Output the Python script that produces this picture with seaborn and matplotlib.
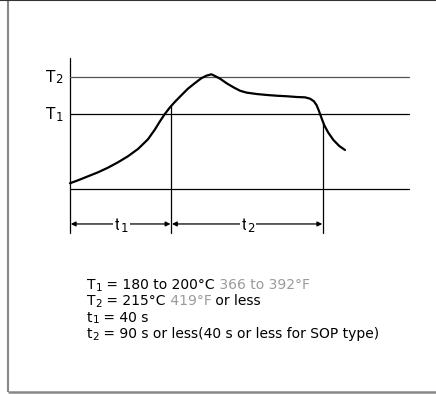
import matplotlib
matplotlib.use("Agg")
import matplotlib.pyplot as plt
import numpy as np
import seaborn as sns

# schematic reflow profile (time in s, temperature in degC)
profile_time = [0, 3.2, 7.1, 11.1, 15.0, 19.0, 22.9, 26.9, 30.8, 33.5, 35.5, 37.4,
                39.4, 41.4, 44.0, 46.6, 49.3, 51.9, 53.9, 55.9, 57.3, 59.3, 61.9,
                64.6, 67.2, 69.8, 73.8, 77.8, 81.7, 85.7, 89.6, 92.9, 94.9, 96.4,
                97.5, 98.4, 99.5, 100.5, 102.1, 104.1, 106.4, 108.7]
profile_temp = [115.3, 118.1, 121.8, 125.6, 129.9, 135.0, 140.6, 147.5, 156.5, 165.5, 173.2, 180.0,
                186.2, 191.5, 197.8, 204.0, 209.1, 213.8, 216.2, 217.5, 215.9, 213.4, 209.1,
                205.3, 202.1, 200.3, 199.0, 198.1, 197.4, 196.9, 196.2, 195.9, 194.6, 192.2,
                188.4, 183.1, 175.9, 169.7, 162.7, 155.9, 150.3, 146.5]

levels = [215, 180, 110]          # T2, T1, base
level_labels = [[("T", False), ("2", True)], [("T", False), ("1", True)]]
boundaries = [0, 40, 100]         # start, end of t1, end of t2
span_labels = [[("t", False), ("1", True)], [("t", False), ("2", True)]]

GRAY = "#9a9a9a"
notes = [
    [("T", "black", False), ("1", "black", True), (" = 180 to 200°C", "black", False),
     (" 366 to 392°F", GRAY, False)],
    [("T", "black", False), ("2", "black", True), (" = 215°C", "black", False),
     (" 419°F", GRAY, False), (" or less", "black", False)],
    [("t", "black", False), ("1", "black", True), (" = 40 s", "black", False)],
    [("t", "black", False), ("2", "black", True),
     (" = 90 s or less(40 s or less for SOP type)", "black", False)],
]

sns.set_style("white")
plt.rcParams["font.family"] = ["DejaVu Sans"]

fig = plt.figure(figsize=(4.36, 3.94), dpi=100)
ax = fig.add_axes([0, 0, 1, 1])
ax.set_xlim(-27.67, 144.66)
ax.set_ylim(-82.4, 287.2)
ax.axis("off")


def chain(x, y, parts, size, **kw):
    prev = None
    for txt, col, sub in parts:
        fs = size * 0.76 if sub else size
        dy = -size * 0.12 if sub else 0
        if prev is None:
            prev = ax.text(x, y, txt, ha="left", va="baseline", fontsize=fs, color=col, **kw)
        else:
            prev = ax.annotate(txt, xy=(1, y), xycoords=(prev, "data"), xytext=(0, dy),
                               textcoords="offset points", ha="left", va="baseline",
                               fontsize=fs, color=col, **kw)
    return prev


# frame
ax.plot([-24.5, -24.5], [286.9, -80.5], color="#888888", lw=1.5, solid_capstyle="butt")
ax.plot([-24.5, 144.66], [-80.5, -80.5], color="#888888", lw=1.8, solid_capstyle="butt")
ax.plot([-27.67, 144.66], [286.9, 286.9], color="#333333", lw=1.5)

x_end = 134
ax.plot([0, 0], [232.8, 68.6], color="black", lw=0.9)
for i, lvl in enumerate(levels):
    ax.plot([0, x_end], [lvl, lvl], color="black" if i else "#555555", lw=0.9)
for lab, lvl in zip(level_labels, levels[:2]):
    chain(-9.4, lvl - 4.3, [(t, "black", s) for t, s in lab], 11)

# profile curve
sns.lineplot(x=profile_time, y=profile_temp, sort=False, color="black", lw=1.6, ax=ax)

# t1 / t2 boundaries and arrows
for b in boundaries[1:]:
    top = np.interp(b, profile_time, profile_temp)
    ax.plot([b, b], [top, 68.6], color="black", lw=0.9)

arrow_y = 77.1
box = dict(facecolor="white", edgecolor="none", pad=1.0)
for lab, a, b in zip(span_labels, boundaries[:-1], boundaries[1:]):
    ax.annotate("", xy=(a + 0.3, arrow_y), xytext=(b - 0.3, arrow_y),
                arrowprops=dict(arrowstyle="<|-|>", color="black", lw=0.9,
                                mutation_scale=7, shrinkA=0, shrinkB=0))
    chain((a + b) / 2 - 2.3, arrow_y - 5.4, [(t, "black", s) for t, s in lab], 11, bbox=box)

# notes block
y0, dy = 16.1, 15.3
for i, parts in enumerate(notes):
    chain(6.7, y0 - i * dy, parts, 10)

fig.savefig("out.png", dpi=100)
